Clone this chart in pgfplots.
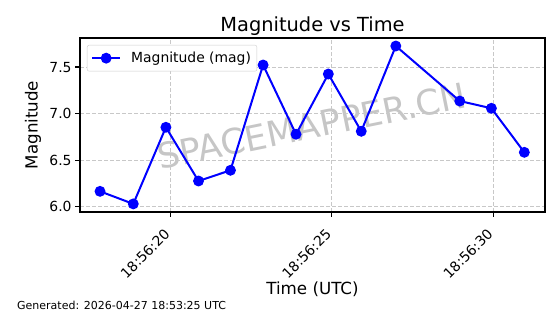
\documentclass[border=0pt]{standalone}
\usepackage{fontspec}
\setmainfont{DejaVu Sans}
\usepackage{pgfplots}
\pgfplotsset{compat=1.18}
\definecolor{gridgray}{RGB}{200,200,200}
\definecolor{legframe}{RGB}{204,204,204}
\begin{document}
\begin{tikzpicture}
\path[use as bounding box] (0,0) rectangle (560bp,314bp);
\node[rotate=11.5, text=gray, opacity=0.45, font=\fontsize{35bp}{39bp}\selectfont] at (312bp,188bp) {SPACEMAPPER.CN};
\begin{axis}[
  at={(80bp,102bp)}, anchor=south west,
  scale only axis, width=465bp, height=174bp,
  xmin=17.2, xmax=31.6, ymin=5.943, ymax=7.812,
  xtick={20,25,30},
  xticklabels={18:56:20,18:56:25,18:56:30},
  ytick={6.0,6.5,7.0,7.5},
  yticklabel style={/pgf/number format/.cd,fixed,fixed zerofill,precision=1,assume math mode=true},
  ticklabel style={font=\fontsize{13.9bp}{16bp}\selectfont},
  xticklabel style={anchor=north east, inner sep=2bp, xshift=-7bp, yshift=-8bp, rotate=45},
  tick align=outside, tick pos=left,
  major tick length=4.9bp,
  every tick/.style={black, line width=1.1bp},
  axis line style={line width=1.1bp},
  grid=major,
  grid style={gridgray, dash pattern=on 4bp off 2bp, line width=0.8bp},
  every axis title shift=0pt,
  title={Magnitude vs Time},
  title style={font=\fontsize{19.4bp}{22bp}\selectfont, at={(axis description cs:0.5,1.069)}, anchor=center},
  xlabel={Time (UTC)},
  xlabel style={font=\fontsize{16.7bp}{19bp}\selectfont, at={(axis description cs:0.5,-0.4425)}, anchor=center},
  ylabel={Magnitude},
  ylabel style={font=\fontsize{16.7bp}{19bp}\selectfont, at={(axis description cs:-0.101,0.5)}, anchor=center},
  legend style={at={(axis description cs:0.015,0.96)}, anchor=north west, draw=legframe, rounded corners=2bp, font=\fontsize{13.9bp}{16bp}\selectfont, inner xsep=4bp, inner ysep=5bp, column sep=8bp},
  legend cell align=left,
  legend image code/.code={\draw[mark repeat=2,mark phase=2,#1] plot coordinates {(0bp,0bp)(14bp,0bp)(28bp,0bp)};},
]
\addplot[blue, line width=2bp, mark=*, mark size=4.4bp, mark options={solid, fill=blue, draw=blue}] coordinates {
(17.82,6.165) (18.85,6.03) (19.86,6.853) (20.87,6.276) (21.86,6.391)
(22.87,7.522) (23.89,6.778) (24.89,7.425) (25.91,6.81) (26.98,7.726)
(28.96,7.135) (29.94,7.057) (30.96,6.584)
};
\addlegendentry{Magnitude (mag)}
\end{axis}
\node[anchor=west, font=\fontsize{11bp}{13bp}\selectfont, inner sep=0pt] at (17bp,9bp) {Generated: 2026-04-27 18:53:25 UTC};
\end{tikzpicture}
\end{document}
